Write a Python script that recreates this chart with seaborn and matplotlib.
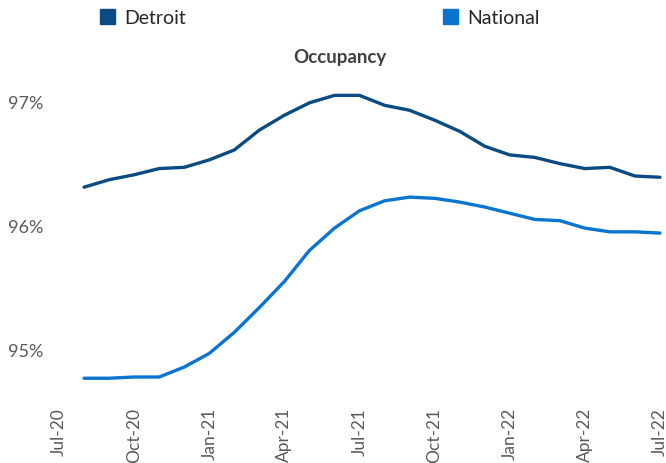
import pandas as pd
import matplotlib.pyplot as plt
import seaborn as sns
from matplotlib.patches import Patch
from matplotlib.ticker import FixedLocator, FuncFormatter
import matplotlib.transforms as mtransforms

# colors
detroit_color = "#0B4B84"
national_color = "#0A74D1"
text_grey = "#595959"

# month labels for the major ticks (index 0 = Jul-20)
tick_labels = ["Jul-20", "Oct-20", "Jan-21", "Apr-21", "Jul-21",
               "Oct-21", "Jan-22", "Apr-22", "Jul-22"]

# monthly values, Aug-20 .. Jul-22
months = list(range(1, 25))
detroit = [96.32, 96.38, 96.42, 96.47, 96.48, 96.54, 96.62, 96.78, 96.90, 97.00,
           97.06, 97.06, 96.98, 96.94, 96.86, 96.77, 96.65, 96.58, 96.56, 96.51,
           96.47, 96.48, 96.41, 96.40]
national = [94.78, 94.78, 94.79, 94.79, 94.87, 94.98, 95.15, 95.35, 95.56, 95.81,
            95.99, 96.13, 96.21, 96.24, 96.23, 96.20, 96.16, 96.11, 96.06, 96.05,
            95.99, 95.96, 95.96, 95.95]

df = pd.DataFrame({
    "month": months * 2,
    "value": detroit + national,
    "series": ["Detroit"] * len(months) + ["National"] * len(months),
})

sns.set_style("white")
plt.rcParams["font.family"] = ["Lato", "DejaVu Sans"]

fig = plt.figure(figsize=(6.66, 4.63), dpi=100)
ax = fig.add_axes([54 / 666, (463 - 394) / 463, 611 / 666, (394 - 78) / 463])

sns.lineplot(data=df, x="month", y="value", hue="series",
             palette={"Detroit": detroit_color, "National": national_color},
             linewidth=2.4, ax=ax, legend=False)

ax.set_xlim(-0.2, 24.2)
ax.set_ylim(94.653, 97.2)

ax.xaxis.set_major_locator(FixedLocator(range(0, 25, 3)))
ax.xaxis.set_minor_locator(FixedLocator(range(0, 25)))
ax.set_xticklabels(tick_labels, rotation=90, fontsize=12.5, color=text_grey)
offset = mtransforms.ScaledTranslation(7 / 100, 0, fig.dpi_scale_trans)
for lbl in ax.get_xticklabels():
    lbl.set_transform(lbl.get_transform() + offset)

ax.set_yticks([95, 96, 97])
ax.yaxis.set_major_formatter(FuncFormatter(lambda v, p: f"{v:.0f}%"))
ax.tick_params(axis="y", labelsize=13, labelcolor=text_grey, length=5,
               color="#E6E6E6", pad=3)
ax.tick_params(axis="x", which="both", length=5, color="#E6E6E6",
               direction="in", pad=10)
ax.set_xlabel("")
ax.set_ylabel("")
sns.despine(ax=ax, left=True, bottom=True)

fig.text(340 / 666, 1 - 57 / 463, "Occupancy", ha="center", va="center",
         fontsize=13.5, fontweight="bold", color="#404040")

for name, color, xpos in [("Detroit", detroit_color, 100),
                          ("National", national_color, 443)]:
    fig.legend(handles=[Patch(color=color, label=name)],
               loc="center left", bbox_to_anchor=(xpos / 666, 1 - 18 / 463),
               frameon=False, fontsize=14, handlelength=0.77, handleheight=0.77,
               handletextpad=0.5, borderpad=0, borderaxespad=0,
               labelcolor="#262626")

fig.savefig("out.png", dpi=100)
